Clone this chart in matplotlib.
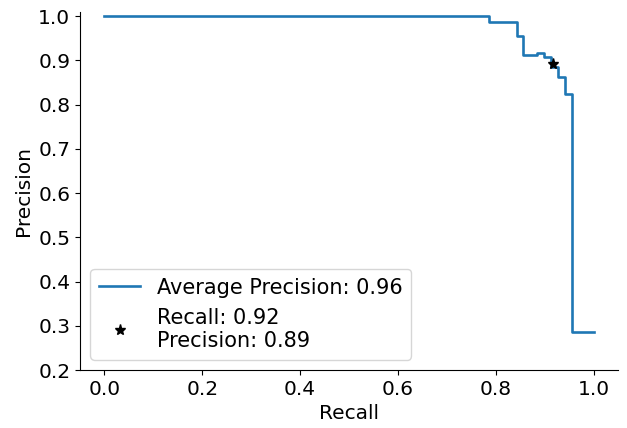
import matplotlib
matplotlib.use("Agg")
import matplotlib.pyplot as plt
from matplotlib.ticker import MultipleLocator

# Precision-recall curve (steps-post)
recall = [0.0, 0.786, 0.843, 0.856, 0.885, 0.898, 0.913, 0.927, 0.942, 0.956, 1.0]
precision = [1.0, 0.987, 0.955, 0.912, 0.917, 0.907, 0.885, 0.863, 0.823, 0.285, 0.285]
avg_precision = 0.96

# Chosen operating point
point_recall = 0.917
point_precision = 0.893


def main():
    plt.rcParams['font.size'] = 14.5
    fig = plt.figure(figsize=(6.27, 4.28), dpi=100)
    ax = fig.add_axes([0.1276, 0.1355, 0.858, 0.837])

    ax.plot(recall, precision, drawstyle='steps-post', color='tab:blue', lw=1.9,
            label=f'Average Precision: {avg_precision:.2f}')
    ax.plot(point_recall, point_precision, '*', color='black', markersize=8,
            label=f'Recall: {point_recall:.2f}\nPrecision: {point_precision:.2f}')

    ax.set_xlim(-0.05, 1.05)
    ax.set_ylim(0.2, 1.01)
    ax.yaxis.set_major_locator(MultipleLocator(0.1))
    ax.set_xlabel('Recall')
    ax.set_ylabel('Precision')
    ax.spines['top'].set_visible(False)
    ax.spines['right'].set_visible(False)
    ax.legend(loc='lower left', fontsize=15)

    fig.savefig('out.png')


if __name__ == "__main__":
    main()
